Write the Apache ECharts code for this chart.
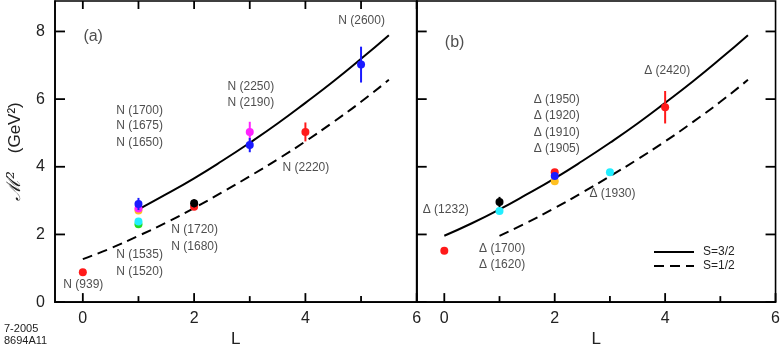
<!DOCTYPE html>
<html>
<head>
<meta charset="utf-8">
<script src="https://cdn.jsdelivr.net/npm/echarts@6/dist/echarts.min.js"></script>
<style>
  html, body { margin: 0; padding: 0; background: #fff; }
  #chart { width: 783px; height: 353px; }
</style>
</head>
<body>
<div id="chart"></div>
<script>
// curves (M^2 in GeV^2 vs L)
const curveL = [0, 0.5, 1, 1.5, 2, 2.5, 3, 3.5, 4, 4.5, 5, 5.5];
const solid32 = [1.96, 2.33, 2.74, 3.19, 3.66, 4.17, 4.71, 5.28, 5.89, 6.52, 7.19, 7.89];
const dashed12 = [1.27, 1.59, 1.96, 2.35, 2.78, 3.24, 3.72, 4.22, 4.75, 5.32, 5.92, 6.57];

// panel (a) nucleon states
const nL = [0, 1, 1, 1, 1, 1, 2, 2, 3, 3, 4, 5];
const nM2 = [0.88, 2.30, 2.38, 2.71, 2.77, 2.90, 2.82, 2.92, 5.03, 4.64, 5.03, 7.02];
const nErr = [0, 0, 0, 0, 0, 0.18, 0, 0.12, 0.30, 0.21, 0.28, 0.53];
const nColor = ['#ff1a1a', '#22dd22', '#22eeff', '#ffc020', '#ff22ff', '#1a1aff', '#ff1a1a', '#000000', '#ff22ff', '#1a1aff', '#ff1a1a', '#1a1aff'];

// panel (b) delta states
const dL = [0, 1, 1, 2, 2, 2, 3, 4];
const dM2 = [1.52, 2.69, 2.96, 3.57, 3.84, 3.73, 3.84, 5.76];
const dErr = [0, 0, 0.15, 0, 0, 0.06, 0, 0.48];
const dColor = ['#ff1a1a', '#22eeff', '#000000', '#ffc020', '#ff1a1a', '#1a1aff', '#22eeff', '#ff1a1a'];

// text labels, anchored at [L, M^2] (left edge, middle)
const nLabels = [
  ['N (1700)', 0.60, 5.67], ['N (1675)', 0.60, 5.21], ['N (1650)', 0.60, 4.72],
  ['N (2250)', 2.60, 6.38], ['N (2190)', 2.60, 5.89], ['N (2600)', 4.59, 8.33],
  ['N (2220)', 3.59, 3.98], ['N (1720)', 1.59, 2.15], ['N (1680)', 1.59, 1.65],
  ['N (1535)', 0.60, 1.40], ['N (1520)', 0.60, 0.91], ['N (939)', -0.35, 0.52]
];
const dLabels = [
  ['Δ (1950)', 1.62, 5.99], ['Δ (1920)', 1.62, 5.50], ['Δ (1910)', 1.62, 5.01],
  ['Δ (1905)', 1.62, 4.52], ['Δ (1232)', -0.39, 2.72], ['Δ (1700)', 0.63, 1.59],
  ['Δ (1620)', 0.63, 1.11], ['Δ (1930)', 2.63, 3.20], ['Δ (2420)', 3.62, 6.84]
];
const panelTags = [['(a)', 0.01, 7.84], ['(b)', 0.01, 7.68]];

// tick positions
const xMajor = [0, 2, 4, 6];
const xMinor = [1, 3, 5];
const xTop = [0, 1, 2, 3, 4, 5, 6];
const yMajor = [0, 2, 4, 6, 8];

const X_MIN = -0.5, X_MAX = 6, Y_MIN = 0, Y_MAX = 8.9;
const FONT = 'Liberation Sans, Arial, sans-serif';
const chart = echarts.init(document.getElementById('chart'));

function pairs(xs, ys, from) {
  const out = [];
  for (let i = 0; i < xs.length; i++) if (xs[i] >= from) out.push([xs[i], ys[i]]);
  return out;
}

function pointSeries(xs, ys, errs, colors, gi) {
  return {
    type: 'custom',
    xAxisIndex: gi, yAxisIndex: gi,
    data: xs.map((x, i) => [x, ys[i], errs[i]]),
    encode: { x: 0, y: 1 },
    silent: true,
    z: 5,
    renderItem: function (params, api) {
      const x = api.value(0), y = api.value(1), e = api.value(2);
      const c = colors[params.dataIndex];
      const p = api.coord([x, y]);
      const children = [];
      if (e > 0) {
        const a = api.coord([x, y + e]), b = api.coord([x, y - e]);
        children.push({ type: 'line', shape: { x1: a[0], y1: a[1], x2: b[0], y2: b[1] }, style: { stroke: c, lineWidth: 2 } });
      }
      children.push({ type: 'circle', shape: { cx: p[0], cy: p[1], r: 4 }, style: { fill: c } });
      return { type: 'group', children: children };
    }
  };
}

function labelSeries(list, gi, size) {
  return {
    type: 'scatter',
    xAxisIndex: gi, yAxisIndex: gi,
    symbolSize: 0,
    silent: true,
    data: list.map(t => ({ name: t[0], value: [t[1], t[2]] })),
    label: {
      show: true, position: 'right', distance: 0,
      formatter: '{b}', fontSize: size, color: '#222', fontFamily: FONT
    }
  };
}

// inward tick marks drawn through the axes' own scales
function tickSeries(gi) {
  const pts = [], dir = [], len = [];
  function add(x, y, d, l) { pts.push([x, y]); dir.push(d); len.push(l); }
  xMajor.forEach(v => add(v, Y_MIN, 'b', 9));
  xMinor.forEach(v => add(v, Y_MIN, 'b', 6));
  if (gi === 0) xTop.forEach(v => add(v, Y_MAX, 't', 8));
  yMajor.forEach(v => add(X_MIN, v, 'l', 10));
  if (gi === 1) yMajor.forEach(v => add(X_MAX, v, 'r', 10));
  return {
    type: 'custom',
    xAxisIndex: gi, yAxisIndex: gi,
    silent: true,
    clip: false,
    z: 6,
    data: pts,
    encode: { x: 0, y: 1 },
    renderItem: function (params, api) {
      const i = params.dataIndex;
      const p = api.coord([api.value(0), api.value(1)]);
      const d = dir[i], l = len[i];
      const q = d === 'b' ? [p[0], p[1] - l] : d === 't' ? [p[0], p[1] + l] : d === 'l' ? [p[0] + l, p[1]] : [p[0] - l, p[1]];
      return { type: 'line', shape: { x1: p[0], y1: p[1], x2: q[0], y2: q[1] }, style: { stroke: '#000', lineWidth: 1.8 } };
    }
  };
}

const lineOn = { show: true, onZero: false, lineStyle: { color: '#000', width: 1.6 } };

function xAxisOf(gi) {
  return {
    gridIndex: gi, type: 'value', min: X_MIN, max: X_MAX, position: 'bottom',
    axisLine: lineOn, splitLine: { show: false }, axisTick: { show: false },
    name: 'L', nameLocation: 'middle', nameGap: 26,
    nameTextStyle: { fontSize: 17, color: '#222', fontFamily: FONT },
    axisLabel: { show: true, customValues: xMajor, fontSize: 16, margin: 8, color: '#222', fontFamily: FONT }
  };
}

const option = {
  animation: false,
  textStyle: { fontFamily: FONT },
  grid: [
    { left: 55, top: 1, width: 361.7, height: 304, show: true, borderColor: '#000', borderWidth: 1.6 },
    { left: 416.7, top: 1, width: 361.6, height: 304, show: true, borderColor: '#000', borderWidth: 1.6 }
  ],
  xAxis: [xAxisOf(0), xAxisOf(1)],
  yAxis: [
    {
      gridIndex: 0, type: 'value', min: Y_MIN, max: Y_MAX, position: 'left',
      axisLine: lineOn, splitLine: { show: false }, axisTick: { show: false },
      name: '{m|ℳ²}{g|}{u|(GeV²)}', nameLocation: 'middle', nameRotate: 90, nameGap: 30,
      nameTextStyle: {
        rich: {
          m: { fontSize: 19, color: '#222', fontFamily: 'DejaVu Serif, serif', fontStyle: 'italic' },
          g: { width: 18 },
          u: { fontSize: 17, color: '#222', fontFamily: FONT }
        }
      },
      axisLabel: { show: true, customValues: yMajor, fontSize: 16, margin: 10, color: '#222', fontFamily: FONT }
    },
    {
      gridIndex: 1, type: 'value', min: Y_MIN, max: Y_MAX, position: 'left',
      axisLine: lineOn, splitLine: { show: false }, axisTick: { show: false }, axisLabel: { show: false }
    }
  ],
  legend: {
    orient: 'vertical', left: 648, top: 241,
    itemWidth: 40, itemHeight: 14, itemGap: 2,
    data: ['S=3/2', 'S=1/2'],
    itemStyle: { opacity: 0, color: 'rgba(0,0,0,0)', borderWidth: 0 },
    textStyle: { fontSize: 12, color: '#222', fontFamily: FONT, padding: [0, 0, 0, 4] }
  },
  series: [
    { name: 'S=3/2', type: 'line', xAxisIndex: 0, yAxisIndex: 0, data: pairs(curveL, solid32, 1), smooth: true, symbol: 'none', silent: true,
      lineStyle: { color: '#000', width: 2, type: 'solid' }, itemStyle: { color: '#000' } },
    { name: 'S=1/2', type: 'line', xAxisIndex: 0, yAxisIndex: 0, data: pairs(curveL, dashed12, 0), smooth: true, symbol: 'none', silent: true,
      lineStyle: { color: '#000', width: 2, type: [10, 6] }, itemStyle: { color: '#000' } },
    { name: 'S=3/2', type: 'line', xAxisIndex: 1, yAxisIndex: 1, data: pairs(curveL, solid32, 0), smooth: true, symbol: 'none', silent: true,
      lineStyle: { color: '#000', width: 2, type: 'solid' }, itemStyle: { color: '#000' } },
    { name: 'S=1/2', type: 'line', xAxisIndex: 1, yAxisIndex: 1, data: pairs(curveL, dashed12, 1), smooth: true, symbol: 'none', silent: true,
      lineStyle: { color: '#000', width: 2, type: [10, 6] }, itemStyle: { color: '#000' } },
    tickSeries(0),
    tickSeries(1),
    pointSeries(nL, nM2, nErr, nColor, 0),
    pointSeries(dL, dM2, dErr, dColor, 1),
    labelSeries(nLabels, 0, 12),
    labelSeries(dLabels, 1, 12),
    labelSeries([panelTags[0]], 0, 16),
    labelSeries([panelTags[1]], 1, 16)
  ],
  graphic: [
    { type: 'text', left: 4, top: 323, style: { text: '7-2005', fontSize: 11, fill: '#222', fontFamily: FONT } },
    { type: 'text', left: 4, top: 335, style: { text: '8694A11', fontSize: 11, fill: '#222', fontFamily: FONT } }
  ]
};

chart.setOption(option);
</script>
</body>
</html>
